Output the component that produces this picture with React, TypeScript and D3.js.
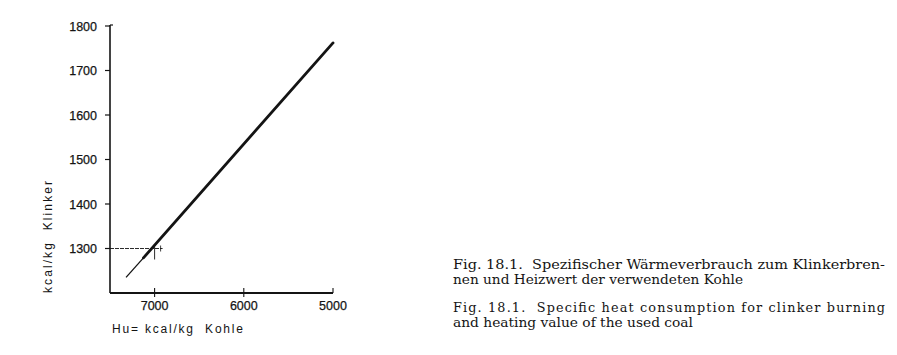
import React from "react";
import * as d3 from "d3";

const xTicks = [7000, 6000, 5000];
const yTicks = [1300, 1400, 1500, 1600, 1700, 1800];
const yTickLabels = ["1300", "1400", "1500", "1600", "1700", "1800"];
const thinSegment: [number, number][] = [
  [7320, 1235],
  [7125, 1279],
];
const thickSegment: [number, number][] = [
  [7125, 1279],
  [5000, 1762],
];
const refPoint = { hu: 7000, q: 1300 };
const yTitle = "kcal/kg  Klinker";
const xTitle = "Hu= kcal/kg  Kohle";
const captionDe = [
  "Fig. 18.1.  Spezifischer Wärmeverbrauch zum Klinkerbren-",
  "nen und Heizwert der verwendeten Kohle",
];
const captionEn = [
  "Fig. 18.1.  Specific heat consumption for clinker burning",
  "and heating value of the used coal",
];

export default function App() {
  const x = d3.scaleLinear().domain([7500, 5000]).range([110, 333]);
  const y = d3.scaleLinear().domain([1200, 1800]).range([293, 26]);
  const line = d3
    .line<[number, number]>()
    .x((d) => x(d[0]))
    .y((d) => y(d[1]));
  const ink = "#141414";
  const sans = "'Liberation Sans', Arial, sans-serif";
  const serif = "'DejaVu Serif', 'Liberation Serif', serif";
  const pre: React.CSSProperties = { whiteSpace: "pre" };
  const capSize = 12.8;

  return (
    <svg
      width={897}
      height={355}
      style={{ position: "absolute", left: 0, top: 0, background: "#fff" }}
    >
      <rect x={0} y={0} width={897} height={355} fill="#fff" />
      {/* axes */}
      <line x1={x(7500)} x2={x(7500)} y1={y(1800) - 1} y2={y(1200)} stroke={ink} strokeWidth={1.6} />
      <line x1={x(7500)} x2={x(5000)} y1={y(1200)} y2={y(1200)} stroke={ink} strokeWidth={1.8} />
      <line x1={x(7500)} x2={x(7500) + 3} y1={y(1800) - 1} y2={y(1800) - 1} stroke={ink} strokeWidth={1.2} />
      {yTicks.map((t, i) => (
        <g key={t}>
          <line x1={x(7500) - 5} x2={x(7500)} y1={y(t)} y2={y(t)} stroke={ink} strokeWidth={1.2} />
          <text
            x={97}
            y={y(t) + 4.5}
            textAnchor="end"
            fontFamily={sans}
            fontSize={12.5}
            fill={ink}
            stroke={ink}
            strokeWidth={0.25}
          >
            {yTickLabels[i]}
          </text>
        </g>
      ))}
      {xTicks.map((t) => (
        <g key={t}>
          <line
            x1={x(t)}
            x2={x(t)}
            y1={y(1200) - 5}
            y2={y(1200) + (t === 5000 ? 0 : 4)}
            stroke={ink}
            strokeWidth={1.1}
          />
          <text
            x={x(t)}
            y={310}
            textAnchor="middle"
            fontFamily={sans}
            fontSize={12.5}
            fill={ink}
            stroke={ink}
            strokeWidth={0.25}
          >
            {t}
          </text>
        </g>
      ))}
      {/* reference crosshair */}
      <line
        x1={x(7500)}
        x2={x(refPoint.hu) + 8}
        y1={y(refPoint.q)}
        y2={y(refPoint.q)}
        stroke={ink}
        strokeWidth={0.9}
        strokeDasharray="4,1"
      />
      <line
        x1={x(refPoint.hu)}
        x2={x(refPoint.hu)}
        y1={y(refPoint.q) - 2}
        y2={y(refPoint.q) + 11}
        stroke={ink}
        strokeWidth={0.9}
      />
      <line
        x1={x(refPoint.hu) + 6}
        x2={x(refPoint.hu) + 6}
        y1={y(refPoint.q) - 3}
        y2={y(refPoint.q) + 3}
        stroke={ink}
        strokeWidth={0.8}
      />
      {/* data lines */}
      <path d={line(thinSegment) ?? ""} fill="none" stroke={ink} strokeWidth={1.3} />
      <path d={line(thickSegment) ?? ""} fill="none" stroke={ink} strokeWidth={2.8} strokeLinecap="round" />
      {/* titles */}
      <text
        transform={`translate(52,293) rotate(-90)`}
        fontFamily={sans}
        fontSize={12}
        fill={ink}
        textLength={112}
        lengthAdjust="spacing"
        style={pre}
      >
        {yTitle}
      </text>
      <text
        x={112}
        y={333}
        fontFamily={sans}
        fontSize={12}
        fill={ink}
        textLength={131}
        lengthAdjust="spacing"
        style={pre}
      >
        {xTitle}
      </text>
      {/* captions */}
      <text x={453} y={269} fontFamily={serif} fontSize={capSize} fill={ink} textLength={432} lengthAdjust="spacingAndGlyphs" style={pre}>
        {captionDe[0]}
      </text>
      <text x={453} y={284} fontFamily={serif} fontSize={capSize} fill={ink} textLength={290} lengthAdjust="spacingAndGlyphs" style={pre}>
        {captionDe[1]}
      </text>
      <text x={453} y={312} fontFamily={serif} fontSize={capSize} fill={ink} textLength={432} lengthAdjust="spacing" style={pre}>
        {captionEn[0]}
      </text>
      <text x={453} y={327} fontFamily={serif} fontSize={capSize} fill={ink} textLength={240} lengthAdjust="spacingAndGlyphs" style={pre}>
        {captionEn[1]}
      </text>
    </svg>
  );
}
